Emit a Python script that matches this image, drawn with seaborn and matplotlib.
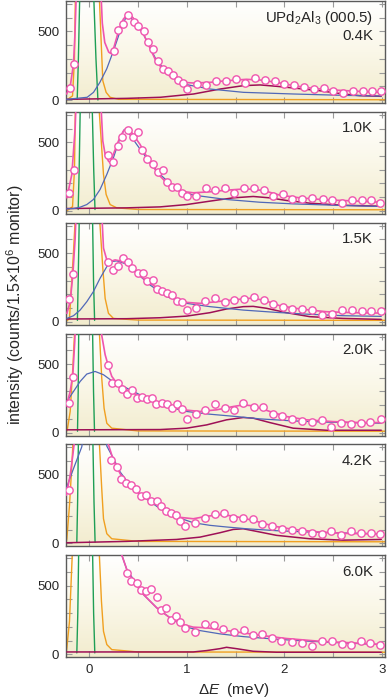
import matplotlib
matplotlib.use("Agg")
import matplotlib.pyplot as plt
from matplotlib.colors import LinearSegmentedColormap
import numpy as np
import seaborn as sns

# ---- panel labels ----
temps = ["0.4K", "1.0K", "1.5K", "2.0K", "4.2K", "6.0K"]

# ---- 0.4K ----
pts_x_04 = [-0.20, -0.15, 0.25, 0.30, 0.345, 0.40, 0.455, 0.505, 0.56, 0.605, 0.655, 0.705, 0.755, 0.805, 0.857,
            0.908, 0.958, 1.005, 1.10, 1.20, 1.30, 1.40, 1.50, 1.60, 1.70, 1.80, 1.90, 2.00, 2.10, 2.20, 2.30, 2.40,
            2.50, 2.60, 2.70, 2.80, 2.90, 2.99]
pts_y_04 = [88, 265, 356, 512, 555, 620, 566, 543, 500, 425, 375, 285, 226, 212, 182, 146, 122, 80, 117, 112,
            141, 141, 150, 124, 160, 148, 136, 117, 110, 93, 80, 88, 68, 51, 66, 63, 66, 63]
fit_x_04 = [-0.23, -0.19, -0.16, -0.145, -0.13, 0.12, 0.135, 0.16, 0.20, 0.22, 0.25, 0.30, 0.35, 0.40, 0.45, 0.555,
            0.69, 0.83, 0.96, 1.07, 1.24, 1.41, 1.61, 1.75, 1.92, 2.09, 2.29, 2.50, 2.77, 2.99]
fit_y_04 = [44, 117, 263, 483, 800, 800, 560, 420, 350, 340, 375, 500, 590, 630, 600, 483, 276, 170, 129, 124, 129,
            141, 151, 146, 129, 105, 85, 73, 63, 56]
blu_x_04 = [-0.23, -0.02, 0.045, 0.11, 0.18, 0.25, 0.32, 0.385, 0.40, 0.45, 0.555, 0.69, 0.83, 1.0, 1.24, 1.58,
            2.09, 2.60, 2.99]
blu_y_04 = [5, 20, 56, 129, 227, 361, 507, 617, 624, 580, 483, 288, 178, 112, 80, 56, 44, 34, 29]
mar_x_04 = [-0.23, 0.385, 0.73, 1.07, 1.34, 1.58, 1.75, 1.92, 2.09, 2.36, 2.60, 2.77, 2.99]
mar_y_04 = [5, 12, 20, 44, 80, 105, 110, 100, 88, 68, 44, 32, 27]
ora_x_04 = [-0.23, -0.17, -0.15, -0.14, 0.10, 0.106, 0.12, 0.14, 0.174, 0.215, 0.30, 3.03]
ora_y_04 = [0, 30, 300, 800, 800, 725, 480, 141, 56, 20, 5, 2]
grn_x_04 = [-0.122, -0.11, -0.095, 0.045, 0.07, 0.09]
grn_y_04 = [5, 300, 800, 800, 300, 0]

# ---- 1.0K ----
pts_x_10 = [-0.21, -0.16, 0.19, 0.24, 0.293, 0.337, 0.395, 0.446, 0.497, 0.545, 0.596, 0.651, 0.702, 0.753, 0.80,
            0.852, 0.903, 0.951, 0.998, 1.094, 1.196, 1.29, 1.387, 1.486, 1.588, 1.69, 1.792, 1.884, 1.98, 2.08,
            2.184, 2.286, 2.39, 2.49, 2.593, 2.688, 2.79, 2.886, 2.98]
pts_y_10 = [129, 298, 407, 359, 473, 539, 588, 539, 578, 446, 376, 339, 283, 298, 212, 176, 176, 132, 107, 105,
            168, 154, 166, 132, 166, 168, 149, 105, 120, 88, 85, 93, 83, 80, 61, 78, 80, 78, 59]
fit_x_10 = [-0.228, -0.177, -0.143, -0.133, 0.119, 0.140, 0.164, 0.198, 0.215, 0.300, 0.351, 0.385, 0.436, 0.521,
            0.624, 0.726, 0.828, 0.930, 1.066, 1.237, 1.407, 1.612, 1.782, 1.952, 2.157, 2.429, 2.702, 2.991]
fit_y_10 = [95, 266, 607, 800, 800, 510, 412, 363, 351, 510, 583, 602, 571, 485, 351, 254, 180, 144, 132, 139, 151,
            161, 149, 115, 95, 80, 73, 63]
blu_x_10 = [-0.23, -0.16, -0.092, -0.024, 0.044, 0.112, 0.181, 0.249, 0.317, 0.361, 0.402, 0.487, 0.624, 0.726,
            0.896, 1.066, 1.407, 1.748, 2.089, 2.600, 2.991]
blu_y_10 = [15, 17, 27, 46, 83, 156, 266, 388, 534, 595, 571, 485, 351, 266, 156, 115, 83, 63, 51, 39, 32]
mar_x_10 = [-0.228, 0.385, 0.726, 0.998, 1.237, 1.475, 1.680, 1.850, 2.020, 2.259, 2.600, 2.991]
mar_y_10 = [17, 22, 29, 46, 71, 95, 105, 95, 76, 56, 41, 34]
ora_x_10 = [-0.23, -0.17, -0.15, -0.14, 0.10, 0.106, 0.147, 0.174, 0.215, 0.283, 0.5, 3.03]
ora_y_10 = [0, 30, 300, 800, 800, 700, 266, 120, 46, 22, 10, 8]
grn_x_10 = [-0.112, -0.102, -0.09, 0.03, 0.047, 0.06]
grn_y_10 = [10, 300, 800, 800, 300, 10]

# ---- 1.5K ----
pts_x_15 = [-0.211, -0.167, 0.198, 0.249, 0.30, 0.344, 0.395, 0.443, 0.497, 0.555, 0.596, 0.651, 0.698, 0.75, 0.80,
            0.852, 0.903, 0.951, 0.998, 1.094, 1.189, 1.29, 1.39, 1.486, 1.584, 1.686, 1.789, 1.884, 1.986, 2.082,
            2.184, 2.279, 2.388, 2.487, 2.586, 2.688, 2.79, 2.89, 2.985]
pts_y_15 = [166, 346, 434, 378, 410, 463, 434, 390, 354, 354, 298, 302, 239, 224, 212, 195, 154, 146, 83, 102,
            154, 171, 146, 161, 166, 180, 156, 132, 110, 95, 90, 88, 49, 56, 83, 85, 80, 80, 78]
fit_x_15 = [-0.228, -0.194, -0.167, -0.143, -0.133, 0.129, 0.147, 0.181, 0.215, 0.266, 0.317, 0.385, 0.487, 0.590,
            0.726, 0.862, 0.998, 1.135, 1.305, 1.475, 1.646, 1.782, 1.952, 2.157, 2.429, 2.702, 2.991]
fit_y_15 = [61, 146, 341, 610, 800, 800, 537, 451, 439, 451, 444, 427, 354, 298, 232, 176, 141, 134, 146, 159, 171,
            159, 117, 93, 73, 66, 63]
blu_x_15 = [-0.228, -0.160, -0.092, -0.024, 0.044, 0.112, 0.181, 0.232, 0.283, 0.385, 0.487, 0.624, 0.794, 0.998,
            1.237, 1.578, 1.918, 2.259, 2.600, 2.991]
blu_y_15 = [24, 44, 85, 146, 220, 317, 402, 439, 444, 420, 354, 268, 183, 134, 110, 85, 68, 54, 44, 39]
mar_x_15 = [-0.228, 0.385, 0.726, 0.998, 1.237, 1.407, 1.578, 1.680, 1.816, 2.020, 2.259, 2.600, 2.991]
mar_y_15 = [20, 22, 29, 41, 66, 93, 110, 112, 98, 66, 37, 24, 17]
ora_x_15 = [-0.23, -0.201, -0.16, -0.143, -0.13, 0.10, 0.112, 0.140, 0.164, 0.198, 0.249, 0.5, 3.03]
ora_y_15 = [5, 24, 510, 740, 800, 800, 700, 390, 170, 61, 24, 12, 10]
grn_x_15 = [-0.12, -0.112, -0.10, 0.034, 0.045, 0.056]
grn_y_15 = [10, 300, 800, 800, 300, 10]

# ---- 2.0K ----
pts_x_20 = [-0.211, -0.17, 0.198, 0.232, 0.293, 0.341, 0.385, 0.436, 0.487, 0.538, 0.589, 0.64, 0.688, 0.743,
            0.797, 0.845, 0.896, 0.951, 0.998, 1.094, 1.186, 1.285, 1.387, 1.482, 1.58, 1.683, 1.782, 1.884, 1.976,
            2.075, 2.18, 2.283, 2.385, 2.474, 2.576, 2.678, 2.78, 2.879, 2.985]
pts_y_20 = [215, 407, 490, 361, 361, 320, 283, 310, 251, 263, 244, 251, 207, 217, 207, 178, 212, 171, 100, 132,
            163, 210, 178, 168, 215, 183, 190, 134, 124, 100, 85, 80, 90, 44, 71, 61, 71, 76, 100]
fit_x_20 = [-0.228, -0.194, -0.167, -0.147, -0.14, 0.125, 0.129, 0.164, 0.198, 0.232, 0.283, 0.385, 0.521, 0.658,
            0.828, 0.964, 1.135, 1.305, 1.475, 1.578, 1.680, 1.850, 2.020, 2.225, 2.497, 2.770, 2.991]
fit_y_20 = [207, 300, 422, 666, 800, 800, 710, 568, 483, 410, 361, 312, 263, 227, 190, 166, 154, 166, 190, 202,
            195, 154, 117, 93, 80, 73, 73]
blu_x_20 = [-0.228, -0.160, -0.092, -0.024, 0.061, 0.147, 0.232, 0.317, 0.453, 0.624, 0.794, 0.998, 1.237, 1.509,
            1.748, 2.089, 2.429, 2.991]
blu_y_20 = [227, 300, 373, 427, 446, 422, 378, 349, 300, 239, 190, 154, 134, 117, 100, 85, 76, 68]
mar_x_20 = [-0.228, 0.726, 0.998, 1.203, 1.407, 1.578, 1.680, 1.850, 2.089, 2.429, 2.991]
mar_y_20 = [20, 22, 32, 56, 93, 110, 105, 73, 32, 17, 17]
ora_x_20 = [-0.23, -0.221, -0.194, -0.167, -0.15, -0.14, 0.10, 0.106, 0.129, 0.153, 0.181, 0.232, 0.5, 3.03]
ora_y_20 = [10, 32, 154, 473, 717, 800, 800, 717, 398, 178, 68, 32, 12, 10]
grn_x_20 = [-0.119, -0.112, -0.106, 0.034, 0.045, 0.055]
grn_y_20 = [10, 300, 800, 800, 300, 10]

# ---- 4.2K ----
pts_x_42 = [-0.211, 0.225, 0.283, 0.324, 0.378, 0.429, 0.48, 0.532, 0.583, 0.634, 0.692, 0.736, 0.787, 0.838,
            0.889, 0.93, 0.981, 1.083, 1.186, 1.285, 1.38, 1.475, 1.578, 1.68, 1.775, 1.874, 1.976, 2.078, 2.18,
            2.283, 2.385, 2.477, 2.576, 2.681, 2.78, 2.883, 2.98]
pts_y_42 = [388, 607, 559, 468, 441, 424, 400, 344, 356, 310, 310, 271, 234, 224, 210, 161, 124, 151, 188, 217,
            222, 185, 185, 176, 144, 127, 107, 98, 93, 73, 71, 90, 59, 88, 73, 78, 71]
fit_x_42 = [-0.235, -0.194, -0.167, -0.153, -0.14, 0.19, 0.198, 0.249, 0.317, 0.385, 0.487, 0.624, 0.760, 0.896,
            1.066, 1.203, 1.339, 1.475, 1.680, 1.884, 2.089, 2.361, 2.634, 2.991]
fit_y_42 = [351, 498, 644, 730, 800, 800, 720, 607, 510, 437, 376, 315, 254, 193, 180, 198, 210, 200, 168, 127,
            102, 83, 73, 68]
blu_x_42 = [-0.235, -0.16, -0.075, -0.058, 0.17, 0.181, 0.249, 0.317, 0.419, 0.555, 0.726, 0.896, 1.066, 1.237,
            1.407, 1.612, 1.918, 2.259, 2.600, 2.991]
blu_y_42 = [400, 546, 705, 800, 800, 710, 620, 522, 424, 339, 254, 193, 151, 132, 120, 107, 93, 83, 76, 71]
mar_x_42 = [-0.228, 0.385, 0.896, 1.135, 1.339, 1.475, 1.578, 1.714, 1.918, 2.259, 2.600, 2.991]
mar_y_42 = [5, 15, 29, 46, 78, 102, 107, 88, 59, 34, 24, 29]
ora_x_42 = [-0.235, -0.228, -0.201, -0.177, -0.167, -0.16, 0.10, 0.106, 0.129, 0.147, 0.181, 0.232, 0.5, 3.03]
ora_y_42 = [10, 34, 278, 571, 717, 800, 800, 717, 400, 180, 71, 34, 15, 12]
grn_x_42 = [-0.126, -0.118, -0.109, 0.037, 0.05, 0.061]
grn_y_42 = [10, 300, 800, 800, 300, 10]

# ---- 6.0K ----
pts_x_60 = [0.385, 0.429, 0.487, 0.528, 0.579, 0.637, 0.692, 0.733, 0.787, 0.835, 0.886, 0.93, 0.985, 1.083, 1.182,
            1.278, 1.373, 1.479, 1.581, 1.68, 1.775, 1.874, 1.969, 2.075, 2.177, 2.28, 2.385, 2.484, 2.586, 2.68,
            2.78, 2.88, 2.975]
pts_y_60 = [595, 534, 522, 466, 461, 473, 417, 324, 339, 251, 276, 237, 193, 161, 224, 217, 185, 161, 180, 139,
            149, 120, 95, 90, 83, 63, 95, 95, 73, 66, 95, 83, 66]
fit_x_60 = [0.30, 0.334, 0.385, 0.453, 0.555, 0.692, 0.828, 0.964, 1.066, 1.203, 1.339, 1.509, 1.748, 2.020, 2.361,
            2.702, 2.991]
fit_y_60 = [800, 725, 620, 534, 437, 339, 266, 217, 198, 193, 180, 163, 139, 115, 95, 83, 71]
blu_x_60 = [0.30, 0.334, 0.385, 0.555, 0.692, 0.828, 0.964, 1.135, 1.339, 1.578, 1.918, 2.259, 2.600, 2.991]
blu_y_60 = [800, 725, 620, 437, 339, 266, 205, 173, 149, 129, 110, 95, 83, 71]
mar_x_60 = [-0.228, 1.066, 1.203, 1.339, 1.407, 1.509, 1.680, 1.918, 2.991]
mar_y_60 = [17, 17, 27, 41, 51, 41, 22, 15, 15]
ora_x_60 = [-0.235, -0.228, -0.201, -0.184, -0.174, -0.17, 0.10, 0.106, 0.126, 0.147, 0.181, 0.232, 0.5, 3.03]
ora_y_60 = [10, 46, 241, 534, 705, 800, 800, 705, 388, 168, 71, 34, 17, 15]
grn_x_60 = [-0.126, -0.116, -0.106, 0.034, 0.046, 0.058]
grn_y_60 = [10, 300, 800, 800, 300, 10]

panels = [
    (pts_x_04, pts_y_04, fit_x_04, fit_y_04, blu_x_04, blu_y_04, mar_x_04, mar_y_04, ora_x_04, ora_y_04, grn_x_04, grn_y_04),
    (pts_x_10, pts_y_10, fit_x_10, fit_y_10, blu_x_10, blu_y_10, mar_x_10, mar_y_10, ora_x_10, ora_y_10, grn_x_10, grn_y_10),
    (pts_x_15, pts_y_15, fit_x_15, fit_y_15, blu_x_15, blu_y_15, mar_x_15, mar_y_15, ora_x_15, ora_y_15, grn_x_15, grn_y_15),
    (pts_x_20, pts_y_20, fit_x_20, fit_y_20, blu_x_20, blu_y_20, mar_x_20, mar_y_20, ora_x_20, ora_y_20, grn_x_20, grn_y_20),
    (pts_x_42, pts_y_42, fit_x_42, fit_y_42, blu_x_42, blu_y_42, mar_x_42, mar_y_42, ora_x_42, ora_y_42, grn_x_42, grn_y_42),
    (pts_x_60, pts_y_60, fit_x_60, fit_y_60, blu_x_60, blu_y_60, mar_x_60, mar_y_60, ora_x_60, ora_y_60, grn_x_60, grn_y_60),
]

PINK = "#f055ae"
BLUE = "#5068b8"
MAROON = "#9e1056"
ORANGE = "#f0a020"
GREEN = "#1e9e55"

sns.set_theme(style="ticks")
plt.rcParams["font.family"] = ["Liberation Sans", "DejaVu Sans"]
plt.rcParams["mathtext.fontset"] = "custom"
plt.rcParams["mathtext.rm"] = "Liberation Sans"
plt.rcParams["mathtext.it"] = "Liberation Sans:italic"

bg = LinearSegmentedColormap.from_list("bg", ["#f2ecce", "#faf7e8", "#ffffff"])

fig, axes = plt.subplots(6, 1, figsize=(3.87, 7.0), dpi=100, sharex=True)
fig.subplots_adjust(left=0.171, right=0.995, top=0.9985, bottom=0.061, hspace=0.087)

def line(ax, x, y, color, lw, z):
    sns.lineplot(x=x, y=y, ax=ax, color=color, lw=lw, sort=False, estimator=None, zorder=z)

for i, ax in enumerate(axes):
    px, py, fx, fy, bx, by, mx, my, ox, oy, gx, gy = panels[i]
    grad = np.linspace(0, 1, 256).reshape(-1, 1)
    ax.imshow(grad, extent=[0, 1, 0, 1], transform=ax.transAxes, aspect="auto",
              cmap=bg, origin="lower", zorder=0)
    line(ax, ox, oy, ORANGE, 1.0, 2)
    line(ax, gx, gy, GREEN, 1.0, 3)
    line(ax, mx, my, MAROON, 1.1, 4)
    line(ax, bx, by, BLUE, 0.9, 5)
    line(ax, fx, fy, PINK, 1.2, 6)
    sns.scatterplot(x=px, y=py, ax=ax, marker="o", s=28, facecolor="white",
                    edgecolor=PINK, linewidth=1.0, zorder=7)
    ax.set_xlim(-0.235, 3.03)
    ax.set_ylim(-22, 722)
    ax.set_yticks(range(0, 701, 100))
    ax.set_yticklabels(["0", "", "", "", "", "500", "", ""])
    ax.set_xticks(np.arange(0, 3.01, 0.5))
    ax.tick_params(direction="in", length=4, width=0.8, color="#9a9a9a",
                   top=True, right=True, labelsize=9.5, pad=5)
    for s in ax.spines.values():
        s.set_color("#5a5a5a")
        s.set_linewidth(1.0)
    ax.set_xlabel("")
    ax.set_ylabel("")
    label = temps[i]
    if i == 0:
        ax.text(0.962, 0.83, r"UPd$_2$Al$_3$ (000.5)", transform=ax.transAxes,
                ha="right", va="center", fontsize=10.8, zorder=8)
        ax.text(0.962, 0.655, label, transform=ax.transAxes, ha="right", va="center",
                fontsize=10.8, zorder=8)
    else:
        ax.text(0.962, 0.84, label, transform=ax.transAxes, ha="right", va="center",
                fontsize=10.8, zorder=8)

axes[-1].set_xticklabels(["0", "", "1", "", "2", "", "3"])
fig.text(0.605, 0.014, r"$\mathit{\Delta E}$  (meV)", ha="center", va="center", fontsize=11)
fig.text(0.038, 0.565, r"intensity (counts/1.5$\times$10$^6$ monitor)", rotation=90,
         ha="center", va="center", fontsize=11.5)

fig.savefig("out.png", dpi=100)
